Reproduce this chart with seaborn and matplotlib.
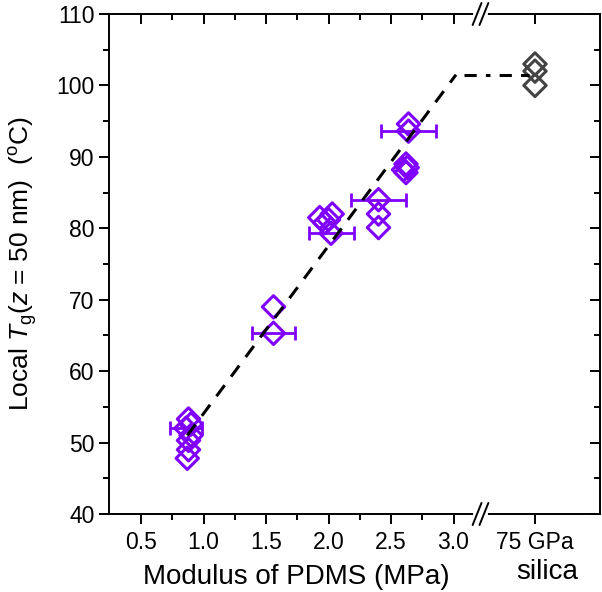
import matplotlib

matplotlib.use('Agg')
import matplotlib.pyplot as plt
import numpy as np
import pandas as pd
import seaborn as sns

# PDMS points (modulus in MPa, local Tg in C), xerr 0 means no error bar
pdms_mod = [0.88, 0.90, 0.86, 0.90, 0.88, 0.88, 0.87,
            1.56, 1.56,
            1.93, 1.97, 2.03, 2.00, 2.02,
            2.40, 2.40, 2.40,
            2.64, 2.64, 2.62, 2.63, 2.62, 2.60]
pdms_tg = [53.3, 52.6, 52.0, 51.0, 50.3, 49.0, 47.8,
           69.0, 65.3,
           81.5, 80.8, 82.0, 81.2, 79.3,
           84.0, 82.0, 80.1,
           94.6, 93.6, 89.0, 88.5, 87.8, 88.2]
pdms_xerr = [0, 0, 0.13, 0, 0, 0, 0,
             0, 0.17,
             0, 0, 0, 0, 0.18,
             0.22, 0, 0,
             0, 0.22, 0, 0, 0, 0]

# silica (75 GPa) placed after the axis break
silica_x = 3.652
silica_tg = [103.0, 102.0, 100.0]

# guide lines
fit_x = [0.87, 3.02]
fit_y = [51.0, 101.5]
plateau_x = [3.08, 3.60]
plateau_y = [101.5, 101.5]

xticks = [0.5, 1.0, 1.5, 2.0, 2.5, 3.0, silica_x]
xticklabels = ['0.5', '1.0', '1.5', '2.0', '2.5', '3.0', '75 GPa']
xminor = [0.75, 1.25, 1.75, 2.25, 2.75]
x_break = 3.216

purple = '#7F00FF'
grey = '#444444'

sns.set_style('ticks')
plt.rcParams['font.family'] = ['Liberation Sans', 'DejaVu Sans']
plt.rcParams['mathtext.fontset'] = 'custom'
plt.rcParams['mathtext.rm'] = 'Liberation Sans'
plt.rcParams['mathtext.it'] = 'Liberation Sans:italic'
plt.rcParams['text.color'] = 'black'
plt.rcParams['axes.labelcolor'] = 'black'

df = pd.DataFrame({'mod': pdms_mod, 'tg': pdms_tg, 'xerr': pdms_xerr})
sil = pd.DataFrame({'mod': [silica_x] * len(silica_tg), 'tg': silica_tg})

fig = plt.figure(figsize=(6.02, 5.92), dpi=100)
ax = fig.add_axes([109 / 602, 1 - 514 / 592, 491 / 602, 500 / 592])

eb = df[df['xerr'] > 0]
ax.errorbar(eb['mod'], eb['tg'], xerr=eb['xerr'], fmt='none', ecolor=purple,
            elinewidth=2, capsize=5, capthick=2, zorder=2)

sns.scatterplot(data=df, x='mod', y='tg', marker='D', s=130, linewidth=2.2,
                edgecolor=purple, ax=ax, zorder=3)
ax.collections[-1].set_facecolor('none')
sns.scatterplot(data=sil, x='mod', y='tg', marker='D', s=130, linewidth=2.2,
                edgecolor=grey, ax=ax, zorder=3)
ax.collections[-1].set_facecolor('none')

sns.lineplot(x=fit_x, y=fit_y, color='black', lw=2.2, ax=ax, zorder=4,
             dashes=False, linestyle=(0, (4.5, 3.5)))
ax.plot(plateau_x, plateau_y, color='black', lw=2.2, zorder=4,
        linestyle=(0, (4, 3, 1.5, 3, 4, 3, 4, 3, 4, 3, 4, 3)))

ax.set_xlim(0.244, 4.172)
ax.set_ylim(40, 110)
ax.set_xticks(xticks)
ax.set_xticklabels(xticklabels)
ax.set_xticks(xminor, minor=True)
ax.set_yticks(np.arange(40, 111, 10))
ax.set_yticks(np.arange(45, 110, 10), minor=True)

for s in ax.spines.values():
    s.set_linewidth(1.4)
    s.set_color('black')

ax.tick_params(which='both', direction='out', width=1.4, labelsize=16.5, colors='black')
ax.tick_params(which='major', length=7)
ax.tick_params(which='minor', length=4)
ax.tick_params(which='both', top=True, right=True)
ax.xaxis.set_tick_params(which='both', pad=5)

# top and right ticks point inward
for t in ax.xaxis.get_major_ticks() + ax.xaxis.get_minor_ticks():
    t.tick2line.set_marker(3)
for t in ax.yaxis.get_major_ticks() + ax.yaxis.get_minor_ticks():
    t.tick2line.set_marker(0)

ax.set_xlabel('Modulus of PDMS (MPa)', fontsize=20, va='center')
ax.xaxis.set_label_coords(0.381, -0.126)
ax.set_ylabel(r'Local $\mathit{T}_\mathrm{g}$($\mathit{z}$ = 50 nm)  ($^\mathrm{o}$C)', fontsize=19)
ax.yaxis.set_label_coords(-0.14, 0.5)

fig.text(547 / 602, 1 - 572 / 592, 'silica', fontsize=20, ha='center', va='center')

# axis break marks on top and bottom spines
bx = (x_break - 0.244) / (4.172 - 0.244)
trans = ax.transAxes
for yb in [0.0, 1.0]:
    ax.plot([bx - 0.012, bx + 0.012], [yb, yb], color='white', lw=3,
            transform=trans, clip_on=False, zorder=6)
    for off in [-0.007, 0.007]:
        ax.plot([bx + off - 0.009, bx + off + 0.009], [yb - 0.022, yb + 0.022],
                color='black', lw=1.4, transform=trans, clip_on=False, zorder=7)

fig.savefig('out.png', dpi=100)
